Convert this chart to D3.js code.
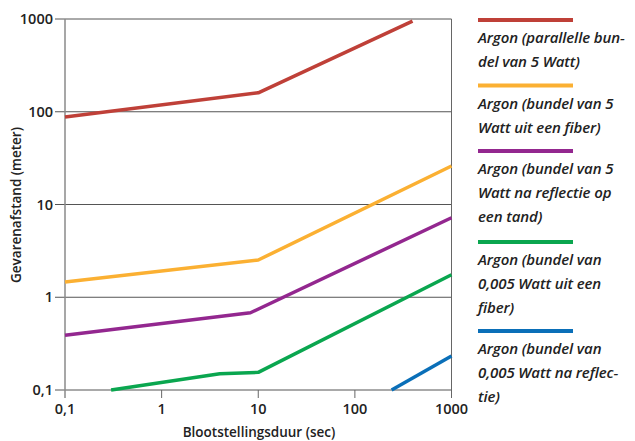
<!DOCTYPE html>
<html><head><meta charset="utf-8">
<script src="https://cdn.jsdelivr.net/npm/d3@7"></script>
<style>body{margin:0;background:#fff}svg{display:block}</style>
</head><body><svg id="c" width="635" height="441"></svg>
<script>
const xTicks = [0.1, 1, 10, 100, 1000];
const yTicks = [0.1, 1, 10, 100, 1000];
const tickLabel = ["0,1", "1", "10", "100", "1000"];
const seriesNames = [
  ["Argon (parallelle bun-", "del van 5 Watt)"],
  ["Argon (bundel van 5", "Watt uit een fiber)"],
  ["Argon (bundel van 5", "Watt na reflectie op", "een tand)"],
  ["Argon (bundel van", "0,005 Watt uit een", "fiber)"],
  ["Argon (bundel van", "0,005 Watt na reflec-", "tie)"]
];
const colors = ["#bf4038", "#fbb032", "#93278f", "#0aa64f", "#0a6fb8"];
const redData = [[0.1, 88], [10, 160], [395, 950]];
const orangeData = [[0.1, 1.46], [10, 2.52], [1000, 26]];
const purpleData = [[0.1, 0.39], [8.3, 0.68], [1000, 7.2]];
const greenData = [[0.3, 0.1], [4, 0.15], [10, 0.155], [1000, 1.75]];
const blueData = [[240, 0.1], [1000, 0.233]];
const seriesData = [redData, orangeData, purpleData, greenData, blueData];

const svg = d3.select("#c");
const x = d3.scaleLog().domain([0.1, 1000]).range([65, 451.5]);
const y = d3.scaleLog().domain([0.1, 1000]).range([390, 19]);
const font = "'Open Sans', 'Noto Sans', sans-serif";

// grid
svg.append("g").selectAll("line").data(yTicks).join("line")
  .attr("x1", 55).attr("x2", x(1000)).attr("y1", d => y(d)).attr("y2", d => y(d))
  .attr("stroke", "#555").attr("stroke-width", 1);
// left and right border
svg.append("line").attr("x1", x(0.1)).attr("x2", x(0.1)).attr("y1", y(1000)).attr("y2", y(0.1) + 8)
  .attr("stroke", "#8a8a8a").attr("stroke-width", 1.5);
svg.append("line").attr("x1", x(1000)).attr("x2", x(1000)).attr("y1", y(1000)).attr("y2", y(0.1) + 8)
  .attr("stroke", "#666").attr("stroke-width", 1);
// x ticks
svg.append("g").selectAll("line").data(xTicks.slice(1, 4)).join("line")
  .attr("x1", d => x(d)).attr("x2", d => x(d)).attr("y1", y(0.1)).attr("y2", y(0.1) + 8)
  .attr("stroke", "#666").attr("stroke-width", 1);
// tick labels
svg.append("g").selectAll("text").data(xTicks).join("text")
  .attr("x", d => x(d)).attr("y", 414).attr("text-anchor", "middle")
  .attr("font-family", font).attr("font-size", 14.5).attr("font-weight", 600).attr("fill", "#222")
  .text((d, i) => tickLabel[i]);
svg.append("g").selectAll("text").data(yTicks).join("text")
  .attr("x", 53).attr("y", d => y(d) + 5).attr("text-anchor", "end")
  .attr("font-family", font).attr("font-size", 14.5).attr("font-weight", 600).attr("fill", "#222")
  .text((d, i) => tickLabel[i]);
// axis titles
svg.append("text").attr("x", 259).attr("y", 437).attr("text-anchor", "middle")
  .attr("font-family", font).attr("font-size", 13.5).attr("font-weight", 600).attr("fill", "#222")
  .text("Blootstellingsduur (sec)");
svg.append("text").attr("transform", "translate(21,205) rotate(-90)").attr("text-anchor", "middle")
  .attr("font-family", font).attr("font-size", 13.5).attr("font-weight", 600).attr("fill", "#222")
  .text("Gevarenafstand (meter)");

// lines
const line = d3.line().x(d => x(d[0])).y(d => y(d[1]));
svg.append("g").selectAll("path").data(seriesData).join("path")
  .attr("d", line).attr("fill", "none")
  .attr("stroke", (d, i) => colors[i]).attr("stroke-width", 3.5).attr("stroke-linejoin", "round");

// legend
const swatchY = [20, 85.5, 151, 242, 331];
const lg = svg.append("g");
seriesNames.forEach((lines, i) => {
  lg.append("line").attr("x1", 478).attr("x2", 573).attr("y1", swatchY[i]).attr("y2", swatchY[i])
    .attr("stroke", colors[i]).attr("stroke-width", 4);
  lines.forEach((t, j) => {
    lg.append("text").attr("x", 478).attr("y", swatchY[i] + 23 + j * 24)
      .attr("font-family", font).attr("font-size", 15).attr("font-style", "italic").attr("font-weight", 600)
      .attr("fill", "#222").attr("letter-spacing", -0.1).text(t);
  });
});
</script></body></html>
